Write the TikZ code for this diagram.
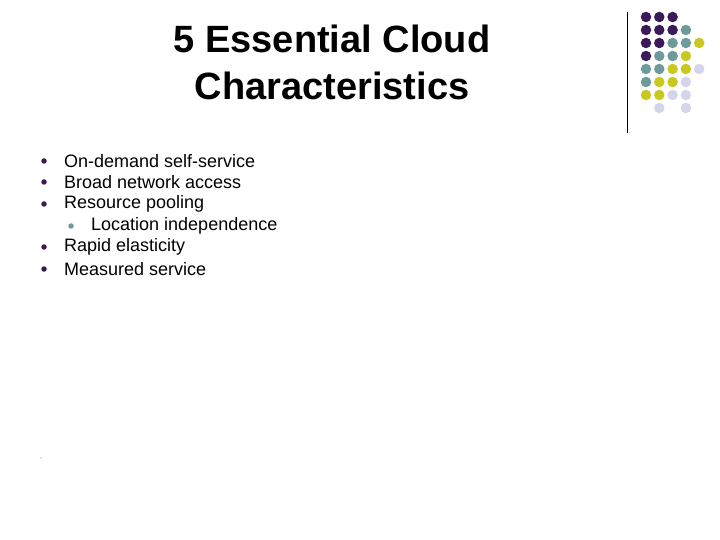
\documentclass[tikz,border=0pt]{standalone}
\usepackage{fontspec}
\setmainfont{Liberation Sans}
\definecolor{P}{HTML}{3B1A5A}
\definecolor{T}{HTML}{6F9A9A}
\definecolor{Y}{HTML}{C8C81E}
\definecolor{L}{HTML}{D4D4EA}
\definecolor{N}{HTML}{FFFFFF}
\begin{document}
\begin{tikzpicture}[x=1pt,y=-1pt,
  txt/.style={anchor=west,inner sep=0pt,font=\fontsize{18}{21}\selectfont},
  bul/.style={circle,fill=P,inner sep=0pt,minimum size=5.5pt},
  dotc/.style={circle,inner sep=0pt,minimum size=10.5pt}]
\useasboundingbox (0,0) rectangle (720,540);
\node[align=center,font=\fontsize{38}{47}\selectfont\bfseries] (title) at (332,62) {5 Essential Cloud\\Characteristics};
\draw[line width=1pt] (627,12) -- (627,133);
\foreach \row [count=\r] in {{P,P,P},{P,P,P,T},{P,P,T,T,Y},{P,T,T,Y},{T,T,Y,Y,L},{T,Y,Y,L},{Y,Y,L,L},{N,L,N,L}}{
  \foreach \c [count=\k] in \row {
    \node[dotc,fill=\c] (d\r\k) at ({646+13.3*(\k-1)},{17+13*(\r-1)}) {};
  }
}
\node[bul] (b1) at (44,161) {}; \node[txt] (t1) at (64,161) {On-demand self-service};
\node[bul] (b2) at (44,182) {}; \node[txt] (t2) at (64,182) {Broad network access};
\node[bul] (b3) at (44,204) {}; \node[txt] (t3) at (64,204) {Resource pooling};
\node[bul,fill=T] (b4) at (71,226) {}; \node[txt] (t4) at (91,226) {Location independence};
\node[bul] (b5) at (44,247) {}; \node[txt] (t5) at (64,247) {Rapid elasticity};
\node[bul] (b6) at (44,269) {}; \node[txt] (t6) at (64,269) {Measured service};
\node[circle,fill=gray,inner sep=0pt,minimum size=1.2pt] (sd) at (41,458) {};
\end{tikzpicture}
\end{document}
